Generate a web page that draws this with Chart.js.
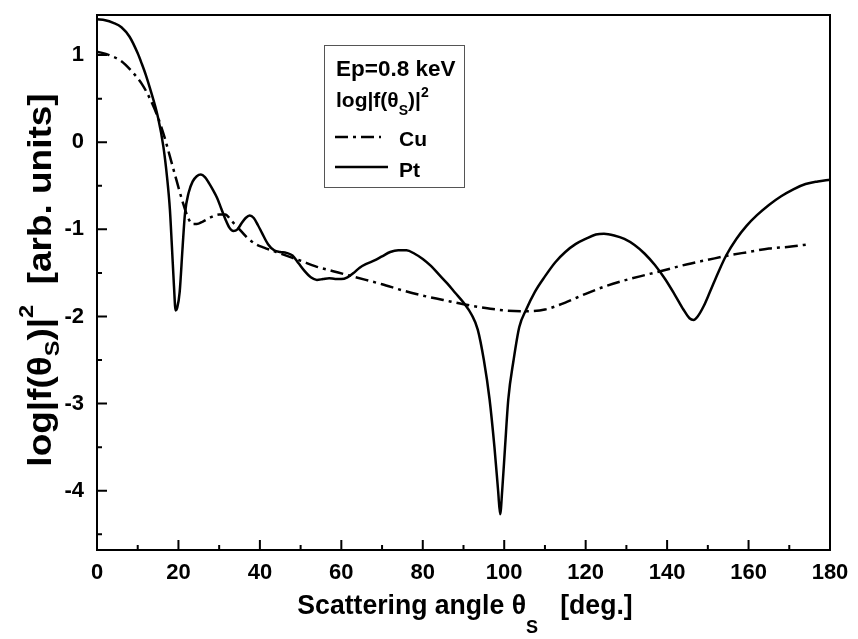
<!DOCTYPE html>
<html>
<head>
<meta charset="utf-8">
<script src="https://cdn.jsdelivr.net/npm/chart.js@4.4.1/dist/chart.umd.min.js"></script>
<style>
html,body{margin:0;padding:0;background:#fff;}
#wrap{width:858px;height:639px;}
</style>
</head>
<body>
<div id="wrap"><canvas id="c" width="858" height="639"></canvas></div>
<script>
// ---- data ----
const ptAngle = [0,2,4,6,8,10,11,12,13,15,16.3,17.2,17.9,18.4,18.9,19.3,19.7,20.3,21,21.6,22.5,23.5,24.5,25.5,26.5,27.5,28.5,29.5,30.5,31.5,32.5,33.5,34.5,35.5,36.5,37.5,38.5,39.5,40.5,42,43.5,45,46.5,48,49.5,51,52.5,54,55.5,57,58.5,60,61.5,63,64.5,66,68,70,72,74,76,78,80,82,84,86,88,90,92,93.5,95,96.4,97.6,98.5,99,99.5,100.2,101,102.3,103.7,105.4,107.5,110,112.5,115,117.5,120,122.5,124.5,127,129.5,132,134.5,137,139.5,142,144,145.5,146.5,147.5,149,150.5,152.5,154.5,157,159.5,162,165,168,171,174,177,180];
const ptValue = [1.41,1.40,1.37,1.32,1.21,1.02,0.90,0.77,0.62,0.28,-0.05,-0.40,-0.77,-1.20,-1.65,-1.93,-1.90,-1.72,-1.22,-0.82,-0.58,-0.45,-0.39,-0.37,-0.40,-0.47,-0.55,-0.64,-0.76,-0.88,-0.98,-1.02,-1.00,-0.93,-0.87,-0.84,-0.87,-0.95,-1.04,-1.17,-1.24,-1.26,-1.27,-1.30,-1.39,-1.48,-1.55,-1.58,-1.57,-1.56,-1.57,-1.57,-1.55,-1.50,-1.44,-1.40,-1.36,-1.31,-1.26,-1.24,-1.24,-1.28,-1.34,-1.42,-1.52,-1.62,-1.73,-1.84,-1.98,-2.15,-2.50,-2.95,-3.50,-4.00,-4.27,-4.00,-3.50,-2.95,-2.50,-2.12,-1.92,-1.72,-1.54,-1.38,-1.26,-1.17,-1.11,-1.06,-1.05,-1.07,-1.11,-1.18,-1.28,-1.41,-1.57,-1.76,-1.92,-2.02,-2.04,-2.00,-1.88,-1.72,-1.50,-1.30,-1.11,-0.96,-0.84,-0.72,-0.62,-0.54,-0.48,-0.45,-0.43];

const cuAngle = [0,3,6,9,11,13,15,16.5,18,19.6,21,22.3,23.5,24.5,26,28,30,31.5,33,35,37,39,41,44,47,50,54,58,62,66,70,75,80,85,90,95,100,105,110,115,120,125,130,135,140,145,150,155,160,165,170,175];
const cuValue = [1.04,1.00,0.93,0.79,0.67,0.50,0.28,0.07,-0.18,-0.45,-0.68,-0.86,-0.94,-0.94,-0.91,-0.86,-0.83,-0.83,-0.90,-1.00,-1.10,-1.17,-1.21,-1.26,-1.31,-1.36,-1.43,-1.48,-1.53,-1.58,-1.63,-1.70,-1.76,-1.81,-1.86,-1.90,-1.93,-1.94,-1.92,-1.84,-1.74,-1.65,-1.58,-1.52,-1.46,-1.40,-1.35,-1.30,-1.26,-1.22,-1.20,-1.17];

const xTicks = [0,20,40,60,80,100,120,140,160,180];
const xMinorTicks = [10,30,50,70,90,110,130,150,170];
const yTicks = [1,0,-1,-2,-3,-4];
const yMinorTicks = [0.5,-0.5,-1.5,-2.5,-3.5,-4.5];

const FONT = '"Liberation Sans", Arial, Helvetica, sans-serif';

function pts(xs, ys){ return xs.map((x,i)=>({x:x, y:ys[i]})); }

function drawParts(ctx, parts, x, y){
  parts.forEach(p=>{ ctx.font = p[1]; ctx.fillText(p[0], x, y + p[2]); x += ctx.measureText(p[0]).width; });
}
function partsWidth(ctx, parts){
  let w = 0; parts.forEach(p=>{ ctx.font = p[1]; w += ctx.measureText(p[0]).width; }); return w;
}

const framePlugin = {
  id:'frame',
  afterDatasetsDraw(chart){
    const ctx = chart.ctx, a = chart.chartArea;
    const xs = chart.scales.x, ys = chart.scales.y;
    ctx.save();
    ctx.strokeStyle = '#000';
    ctx.lineWidth = 2;
    ctx.strokeRect(a.left, a.top, a.right - a.left, a.bottom - a.top);
    ctx.beginPath();
    xTicks.forEach(v=>{ const p = xs.getPixelForValue(v); ctx.moveTo(p, a.bottom); ctx.lineTo(p, a.bottom-10); });
    xMinorTicks.forEach(v=>{ const p = xs.getPixelForValue(v); ctx.moveTo(p, a.bottom); ctx.lineTo(p, a.bottom-5); });
    yTicks.forEach(v=>{ const p = ys.getPixelForValue(v); ctx.moveTo(a.left, p); ctx.lineTo(a.left+10, p); });
    yMinorTicks.forEach(v=>{ const p = ys.getPixelForValue(v); ctx.moveTo(a.left, p); ctx.lineTo(a.left+5, p); });
    ctx.stroke();
    ctx.restore();
  },
  afterDraw(chart){
    const ctx = chart.ctx;
    ctx.save();
    ctx.fillStyle = '#000';
    ctx.textBaseline = 'alphabetic';
    // ----- x title (slightly condensed, as in the reference) -----
    const xb = 'bold 28px ' + FONT, xs = 'bold 19px ' + FONT;
    const xParts = [['Scattering angle \u03b8', xb, 0], ['S', xs, 19], ['   [deg.]', xb, 0]];
    let tw = partsWidth(ctx, xParts);
    ctx.save();
    ctx.translate(465, 614);
    ctx.scale(0.95, 1);
    drawParts(ctx, xParts, -tw/2, 0);
    ctx.restore();
    // ----- y title (rotated) -----
    ctx.save();
    ctx.translate(51, 280);
    ctx.rotate(-Math.PI/2);
    ctx.scale(1.12, 1);
    const yb = 'bold 33px ' + FONT, ysm = 'bold 21px ' + FONT;
    const yParts = [['log|f(\u03b8', yb, 0], ['S', ysm, 8], [')|', yb, 0], ['2', ysm, -18], ['  [arb. units]', yb, 0]];
    tw = partsWidth(ctx, yParts);
    drawParts(ctx, yParts, -tw/2, 0);
    ctx.restore();
    // ----- legend box -----
    ctx.strokeStyle = '#555';
    ctx.lineWidth = 1;
    ctx.strokeRect(324.5, 45.5, 140, 142);
    const lf = 'bold 21px ' + FONT, ls = 'bold 14px ' + FONT;
    ctx.font = 'bold 22.5px ' + FONT;
    ctx.fillText('Ep=0.8 keV', 336, 76);
    const lParts = [['log|f(\u03b8', lf, 0], ['S', ls, 8], [')|', lf, 0], ['2', ls, -10]];
    drawParts(ctx, lParts, 336, 107);
    ctx.font = lf;
    ctx.fillText('Cu', 399, 146);
    ctx.fillText('Pt', 399, 177);
    ctx.strokeStyle = '#000';
    ctx.lineWidth = 2.5;
    ctx.setLineDash([13,5,3,5]);
    ctx.beginPath(); ctx.moveTo(335, 137); ctx.lineTo(381, 137); ctx.stroke();
    ctx.setLineDash([]);
    ctx.beginPath(); ctx.moveTo(335, 167); ctx.lineTo(388, 167); ctx.stroke();
    ctx.restore();
  }
};

new Chart(document.getElementById('c'), {
  type: 'scatter',
  data: {
    datasets: [
      { label:'Cu', data: pts(cuAngle, cuValue), showLine:true, borderColor:'#000', borderWidth:2.5,
        borderDash:[13,5,3,5], pointRadius:0, cubicInterpolationMode:'monotone', fill:false },
      { label:'Pt', data: pts(ptAngle, ptValue), showLine:true, borderColor:'#000', borderWidth:2.5,
        pointRadius:0, cubicInterpolationMode:'monotone', fill:false }
    ]
  },
  options: {
    responsive:false,
    animation:false,
    devicePixelRatio:1,
    layout:{ padding:{ left:0, right:28, top:15, bottom:0 } },
    plugins:{ legend:{display:false}, tooltip:{enabled:false}, title:{display:false} },
    scales:{
      x:{
        type:'linear', min:0, max:180,
        grid:{ display:false, drawTicks:false },
        border:{ display:false },
        afterBuildTicks(s){ s.ticks = xTicks.map(v=>({value:v})); },
        afterFit(s){ s.height = 89; s.paddingLeft = 0; s.paddingRight = 0; },
        ticks:{ color:'#000', font:{ family:FONT, size:22, weight:'bold' }, padding:10, maxRotation:0, autoSkip:false }
      },
      y:{
        type:'linear', min:-4.68, max:1.46,
        grid:{ display:false, drawTicks:false },
        border:{ display:false },
        afterBuildTicks(s){ s.ticks = yTicks.map(v=>({value:v})); },
        afterFit(s){ s.width = 97; s.paddingTop = 0; s.paddingBottom = 0; },
        ticks:{ color:'#000', font:{ family:FONT, size:22, weight:'bold' }, padding:13, autoSkip:false }
      }
    }
  },
  plugins:[framePlugin]
});
</script>
</body>
</html>
